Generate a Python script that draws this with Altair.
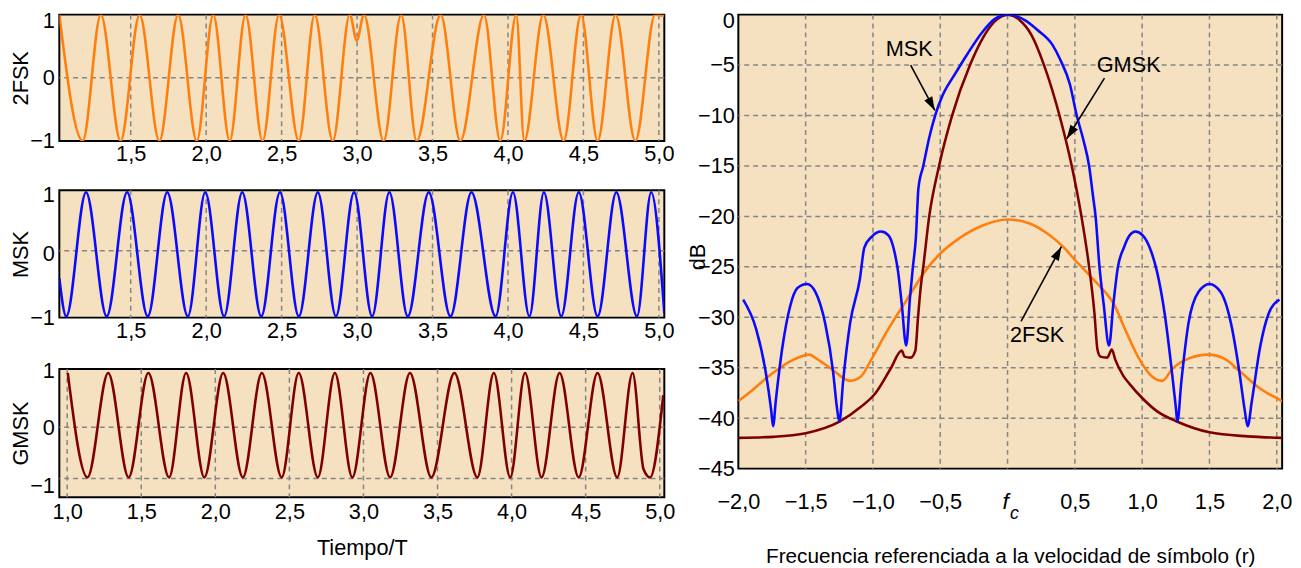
import altair as alt
import pandas as pd

# ---------------- time-domain waveforms (extrema) ----------------
FSK_T = [1.027, 1.182, 1.302, 1.433, 1.559, 1.690, 1.814, 1.938, 2.047, 2.156, 2.261, 2.374,
         2.483, 2.614, 2.719, 2.839, 2.952, 2.998, 3.046, 3.176, 3.292, 3.395, 3.554, 3.684,
         3.841, 3.949, 4.055, 4.108, 4.234, 4.369, 4.484, 4.594, 4.713, 4.844, 4.975, 5.036]
FSK_V = [1, -1, 1, -1, 1, -1, 1, -1, 1, -1, 1, -1,
         1, -1, 1, -1, 1, 0.59, 1, -1, 1, -1, 1, -1,
         1, -1, 1, -1, 1, -1, 1, -1, 1, -1, 1, 0.98]

MSK_T = [1.027, 1.073, 1.204, 1.341, 1.476, 1.613, 1.742, 1.879, 1.994, 2.119, 2.239, 2.365,
         2.489, 2.614, 2.740, 2.860, 2.980, 3.100, 3.214, 3.336, 3.475, 3.619, 3.758, 3.918,
         4.033, 4.142, 4.238, 4.353, 4.469, 4.594, 4.718, 4.855, 4.949, 5.036]
MSK_V = [-0.38, -0.98, 0.97, -0.98, 0.97, -0.98, 0.97, -0.98, 0.97, -0.98, 0.97, -0.98,
         0.97, -0.98, 0.97, -0.98, 0.97, -0.98, 0.97, -0.98, 0.97, -0.98, 0.97, -0.98,
         0.97, -0.98, 0.97, -0.98, 0.97, -0.98, 0.97, -0.98, 0.97, -0.93]

GMSK_T = [1.004, 1.137, 1.277, 1.415, 1.548, 1.688, 1.803, 1.926, 2.053, 2.186, 2.314, 2.448,
          2.563, 2.692, 2.807, 2.925, 3.047, 3.180, 3.314, 3.458, 3.614, 3.769, 3.880, 3.991,
          4.091, 4.202, 4.324, 4.453, 4.580, 4.713, 4.817, 4.891, 4.935, 5.024]
GMSK_V = [0.93, -0.86, 0.93, -0.86, 0.93, -0.86, 0.93, -0.86, 0.93, -0.86, 0.93, -0.86,
          0.93, -0.86, 0.93, -0.86, 0.93, -0.86, 0.93, -0.86, 0.93, -0.86, 0.93, -0.86,
          0.93, -0.86, 0.93, -0.86, 0.93, -0.86, 0.93, -0.72, -0.86, 0.55]

TIME_TICKS_TOP = [1.5, 2.0, 2.5, 3.0, 3.5, 4.0, 4.5, 5.0]
TIME_TICKS_BOTTOM = [1.0, 1.5, 2.0, 2.5, 3.0, 3.5, 4.0, 4.5, 5.0]
AMP_TICKS = [-1, 0, 1]
GMSK_HGRID = [0.0, -0.88]

# ---------------- spectra (dB vs frequency / r) ----------------
SPEC_MSK_F = [-1.964, -1.867, -1.797, -1.756, -1.742, -1.722, -1.672, -1.617, -1.561, -1.49,
              -1.427, -1.355, -1.296, -1.268, -1.249, -1.222, -1.17, -1.097, -1.064, -1.008,
              -0.939, -0.883, -0.842, -0.814, -0.786, -0.753, -0.725, -0.703, -0.681, -0.662,
              -0.626, -0.582, -0.538, -0.479, -0.391, -0.303, -0.185, -0.097, 0.0, 0.077,
              0.134, 0.22, 0.334, 0.391, 0.463, 0.514, 0.563, 0.606, 0.634, 0.654,
              0.683, 0.714, 0.754, 0.786, 0.82, 0.864, 0.906, 0.949, 1.006, 1.065,
              1.109, 1.168, 1.221, 1.25, 1.262, 1.291, 1.344, 1.418, 1.5, 1.583,
              1.66, 1.722, 1.762, 1.784, 1.815, 1.877, 1.938, 2.02]
SPEC_MSK_DB = [-28.25, -31.2, -35.4, -39.2, -40.8, -38.3, -32.9, -29.0, -27.1, -26.7,
               -27.5, -30.6, -35.4, -38.9, -40.35, -36.4, -30.6, -26.2, -23.1, -22.0,
               -21.5, -21.9, -23.4, -25.4, -28.7, -32.8, -28.1, -25.0, -22.1, -17.2,
               -15.0, -12.2, -10.0, -7.9, -5.9, -4.0, -1.7, -0.45, 0.0, -0.2,
               -0.6, -1.5, -3.0, -4.45, -6.9, -10.0, -12.4, -15.0, -17.9, -20.0,
               -25.0, -28.7, -32.8, -28.7, -25.0, -23.1, -21.9, -21.5, -21.9, -23.4,
               -25.4, -29.7, -35.4, -38.9, -40.35, -36.4, -30.6, -27.5, -26.7, -27.5,
               -30.6, -35.4, -39.2, -40.8, -38.3, -32.9, -29.7, -28.25]

SPEC_GMSK_F = [-2.0, -1.742, -1.5, -1.249, -1.092, -0.98, -0.869, -0.786, -0.765, -0.72,
               -0.685, -0.665, -0.645, -0.626, -0.582, -0.509, -0.412, -0.279, -0.185, -0.097,
               0.0, 0.091, 0.177, 0.271, 0.386, 0.477, 0.549, 0.606, 0.645, 0.668,
               0.69, 0.74, 0.775, 0.80, 0.86, 0.906, 1.0, 1.109, 1.262, 1.5,
               1.784, 2.04]
SPEC_GMSK_DB = [-41.95, -41.85, -41.5, -40.35, -38.9, -37.5, -35.1, -33.3, -33.9, -34.0,
                -33.3, -30.0, -27.0, -25.0, -20.0, -15.0, -10.0, -5.0, -2.35, -0.7,
                0.0, -0.55, -2.0, -5.0, -10.0, -15.0, -20.0, -25.0, -29.5, -33.2,
                -33.9, -34.0, -33.2, -34.2, -35.8, -36.6, -38.0, -39.3, -40.35, -41.4,
                -41.8, -41.95]

SPEC_FSK_F = [-2.0, -1.894, -1.78, -1.70, -1.59, -1.47, -1.43, -1.31, -1.17, -1.092,
              -1.008, -0.892, -0.755, -0.60, -0.509, -0.362, -0.185, 0.0, 0.163, 0.306,
              0.42, 0.506, 0.55, 0.62, 0.677, 0.79, 0.877, 0.977, 1.06, 1.15,
              1.225, 1.344, 1.49, 1.61, 1.73, 1.855, 2.04]
SPEC_FSK_DB = [-38.3, -37.2, -35.9, -35.1, -34.2, -33.7, -34.0, -35.1, -36.3, -35.9,
               -34.1, -31.3, -28.4, -25.2, -23.8, -22.2, -20.9, -20.3, -20.7, -21.8,
               -23.1, -24.4, -25.0, -26.0, -26.8, -28.7, -31.3, -34.1, -35.7, -36.3,
               -35.1, -34.1, -33.7, -34.1, -35.4, -36.85, -38.3]

FREQ_TICKS = [-2.0, -1.5, -1.0, -0.5, 0.0, 0.5, 1.0, 1.5, 2.0]
FREQ_GRID = [-1.5, -1.0, -0.5, 0.0, 0.5, 1.0, 1.5, 2.0]
DB_TICKS = [0, -5, -10, -15, -20, -25, -30, -35, -40, -45]
DB_GRID = [-5, -10, -15, -20, -25, -30, -35, -40]

# annotations
LABEL_TEXT = ["MSK", "GMSK", "2FSK"]
LABEL_F = [-0.73, 0.9, 0.22]
LABEL_DB = [-3.4, -5.0, -31.8]
ARROW_F0 = [-0.72, 0.72, 0.10]
ARROW_DB0 = [-5.0, -6.3, -30.4]
ARROW_F1 = [-0.54, 0.44, 0.40]
ARROW_DB1 = [-9.5, -12.3, -23.0]
ARROW_ANGLE = [151.5, 212.5, 28.0]
FC_MAIN, FC_SUB = "f", "c"

# ---------------- styling ----------------
FONT = "Liberation Sans"
BG = "#F5E0C0"
GRID_COLOR = "#858585"
GRID_DASH = [5, 4]
ORANGE = "#FF7F0E"
BLUE = "#0A0AFF"
DARKRED = "#7F0000"

time_label = "replace(format(datum.value, '.1f'), '.', ',')"
amp_label = "datum.value < 0 ? '\u2212' + abs(datum.value) : '' + datum.value"


def wave_panel(t, v, color, ytitle, xdomain, ydomain, xticks, vgrid, hgrid, height, xtitle=None,
               label_pad=3, top_off=3):
    xs = alt.Scale(domain=xdomain, nice=False, zero=False)
    ys = alt.Scale(domain=ydomain, nice=False, zero=False)
    xaxis = alt.Axis(values=xticks, labelExpr=time_label, labelPadding=label_pad,
                     labelFlush=False, labelOverlap=False, title=xtitle, titlePadding=15)
    yaxis = alt.Axis(values=AMP_TICKS, labelExpr=amp_label, title=ytitle, labelPadding=5,
                     labelFlush=False, labelOverlap=False, titleX=-27,
                     labelOffset={"condition": {"test": "datum.value == 1", "value": top_off},
                                  "value": 0})
    vg = alt.Chart(pd.DataFrame({"t": vgrid})).mark_rule(
        color=GRID_COLOR, strokeDash=GRID_DASH, strokeWidth=1.5
    ).encode(x=alt.X("t:Q", scale=xs, axis=xaxis))
    hg = alt.Chart(pd.DataFrame({"v": hgrid})).mark_rule(
        color=GRID_COLOR, strokeDash=GRID_DASH, strokeWidth=1.5
    ).encode(y=alt.Y("v:Q", scale=ys, axis=yaxis))
    line = alt.Chart(pd.DataFrame({"t": t, "v": v})).mark_line(
        color=color, strokeWidth=2.6, interpolate="monotone", clip=True
    ).encode(x=alt.X("t:Q", scale=xs, axis=xaxis), y=alt.Y("v:Q", scale=ys, axis=yaxis),
             order=alt.Order("t:Q"))
    return alt.layer(vg, hg, line).properties(width=613, height=height)


top = wave_panel(FSK_T, FSK_V, ORANGE, "2FSK", [1.027, 5.036], [-1, 1], TIME_TICKS_TOP,
                 TIME_TICKS_TOP, [0], 128, top_off=6)
mid = wave_panel(MSK_T, MSK_V, BLUE, "MSK", [1.027, 5.036], [-1, 1], TIME_TICKS_TOP,
                 TIME_TICKS_TOP, [0.05], 129, top_off=4)
bot = wave_panel(GMSK_T, GMSK_V, DARKRED, "GMSK", [0.947, 5.031], [-1.2, 1], TIME_TICKS_BOTTOM,
                 TIME_TICKS_BOTTOM, GMSK_HGRID, 130, xtitle="Tiempo/T", label_pad=5, top_off=2)

left = alt.vconcat(top, mid, bot, spacing=17)

# ---------------- spectrum panel ----------------
RW, RH = 551, 460
fs = alt.Scale(domain=[-2.0, 2.04], nice=False, zero=False)
ds = alt.Scale(domain=[-45, 0], nice=False, zero=False)
freq_axis = alt.Axis(values=FREQ_TICKS,
                     labelExpr="datum.value == 0 ? '' : replace(format(datum.value, '.1f'), '.', ',')",
                     labelPadding=23, labelFlush=False, labelOverlap=False,
                     title="Frecuencia referenciada a la velocidad de símbolo (r)", titlePadding=34,
                     titleFontSize=21)
db_axis = alt.Axis(values=DB_TICKS, format="d", labelPadding=4, labelFlush=False,
                   labelOverlap=False, title="dB", titleX=-29, titleY=245,
                   labelOffset={"condition": {"test": "datum.value == 0", "value": 6}, "value": 0})

FX = dict(scale=fs, axis=freq_axis)
DY = dict(scale=ds, axis=db_axis)

rg_v = alt.Chart(pd.DataFrame({"f": FREQ_GRID})).mark_rule(
    color=GRID_COLOR, strokeDash=GRID_DASH, strokeWidth=1.5
).encode(x=alt.X("f:Q", **FX))
rg_h = alt.Chart(pd.DataFrame({"db": DB_GRID})).mark_rule(
    color=GRID_COLOR, strokeDash=GRID_DASH, strokeWidth=1.5
).encode(y=alt.Y("db:Q", **DY))


def spec_line(f, db, color):
    return alt.Chart(pd.DataFrame({"f": f, "db": db})).mark_line(
        color=color, strokeWidth=2.6, interpolate="monotone", clip=True
    ).encode(
        x=alt.X("f:Q", **FX),
        y=alt.Y("db:Q", **DY),
        order=alt.Order("f:Q"),
    )


l_fsk = spec_line(SPEC_FSK_F, SPEC_FSK_DB, ORANGE)
l_gmsk = spec_line(SPEC_GMSK_F, SPEC_GMSK_DB, DARKRED)
l_msk = spec_line(SPEC_MSK_F, SPEC_MSK_DB, BLUE)

lab_df = pd.DataFrame({"f": LABEL_F, "db": LABEL_DB, "txt": LABEL_TEXT})
labels = alt.Chart(lab_df).mark_text(font=FONT, fontSize=22, color="black").encode(
    x=alt.X("f:Q", **FX), y=alt.Y("db:Q", **DY), text="txt:N")

arr_df = pd.DataFrame({"f": ARROW_F0, "db": ARROW_DB0, "f1": ARROW_F1, "d1": ARROW_DB1})
shafts = alt.Chart(arr_df).mark_rule(color="black", strokeWidth=1.6).encode(
    x=alt.X("f:Q", **FX), y=alt.Y("db:Q", **DY),
    x2="f1:Q", y2="d1:Q")

head_path = "M0,0 L-0.65,2 L0.65,2 Z"
heads = []
for i in range(len(ARROW_F1)):
    heads.append(
        alt.Chart(pd.DataFrame({"f": [ARROW_F1[i]], "db": [ARROW_DB1[i]]})).mark_point(
            shape=head_path, filled=True, size=196, color="black", opacity=1,
            angle=ARROW_ANGLE[i]
        ).encode(x=alt.X("f:Q", **FX), y=alt.Y("db:Q", **DY))
    )

fc_df = pd.DataFrame({"f": [0.0]})
fc_f = alt.Chart(fc_df).mark_text(font=FONT, fontSize=23, fontStyle="italic", color="black",
                                  baseline="middle", text=FC_MAIN, dx=-2).encode(
    x=alt.X("f:Q", **FX), y=alt.value(RH + 34))
fc_c = alt.Chart(fc_df).mark_text(font=FONT, fontSize=18, fontStyle="italic", color="black",
                                  baseline="middle", text=FC_SUB, dx=7).encode(
    x=alt.X("f:Q", **FX), y=alt.value(RH + 46))

right = alt.layer(rg_v, rg_h, l_fsk, l_gmsk, l_msk, shafts, *heads, labels, fc_f, fc_c).properties(
    width=RW, height=RH)

chart = alt.hconcat(left, right, spacing=10).properties(
    padding={"left": 0, "top": -3, "right": 0, "bottom": 0},
    background="white"
).configure_view(
    stroke="black", strokeWidth=2, fill=BG
).configure_axis(
    labelFont=FONT, labelFontSize=22, labelColor="black",
    titleFont=FONT, titleFontSize=22, titleColor="black", titleFontWeight="normal",
    domain=False, ticks=False, grid=False, labelOverlap=False, labelFlush=False
)

chart.save("out.html", embed_options={"renderer": "svg", "actions": False})
